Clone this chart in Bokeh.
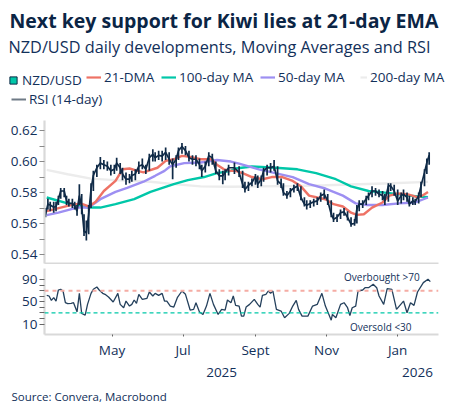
from bokeh.plotting import figure
from bokeh.layouts import column, row
from bokeh.models import Range1d, FixedTicker, Span, Label, Legend, LegendItem, LinearAxis
from bokeh.embed import file_html
from bokeh.resources import INLINE

TITLE = "Next key support for Kiwi lies at 21-day EMA"
SUBTITLE = "NZD/USD daily developments, Moving Averages and RSI"
SOURCE = "Source: Convera, Macrobond"

price_days = [0,2,4,7,9,11,13,16,18,20,23,25,27,29,31,33,35,37,39,41,44,47,50,53,56,59,61,64,66,69,72,74,77,80,83,86,89,92,94,97,100,103,106,109,112,114,117,120,123,126,129,132,134,137,140,143,146,149,152,154,157,
162,166,169,171,174,177,180,182,185,187,190,193,196,199,202,204,207,210,213,216,219,222,224,227,230,233,236,239,242,245,247,250,253,256,259,262,265,267,269,272,275,277,280,283,286,289,291,294,296,299,302,305,307,310,312,315,317,320,322,325,327,329]
price_close = [.566,.5725,.572,.5705,.571,.5757,.581,.581,.5746,.573,.573,.5714,.568,.578,.571,.555,.554,.566,.582,.591,.596,.599,.598,.597,.594,.595,.599,.596,.592,.5886,.5886,.591,.592,.597,.598,.595,.6025,.6047,.6025,.604,.6035,.606,.6015,.598,.6015,.607,.6097,.607,.6025,.6015,.6015,.598,.594,.597,.6037,.6025,.594,.5908,.5908,.593,.596,
.596,.593,.5854,.582,.5847,.5865,.5903,.5854,.5886,.594,.596,.596,.597,.5875,.5854,.58,.578,.581,.583,.584,.5768,.5725,.5718,.573,.574,.5746,.578,.579,.5746,.566,.5628,.564,.567,.5675,.564,.5596,.56,.5693,.5725,.5725,.576,.578,.581,.581,.579,.578,.5746,.5843,.5843,.581,.5746,.578,.579,.5768,.5725,.5746,.574,.578,.5843,.593,.5993,.604]
price_high = [.57,.576,.574,.574,.574,.578,.583,.583,.578,.576,.576,.574,.572,.5854,.579,.566,.562,.572,.586,.594,.598,.603,.601,.6,.598,.598,.6025,.599,.596,.593,.592,.594,.595,.6,.602,.598,.605,.608,.606,.607,.607,.609,.606,.602,.604,.609,.612,.61,.607,.604,.604,.602,.598,.6,.606,.605,.6,.595,.594,.595,.598,
.5994,.597,.594,.587,.587,.589,.592,.591,.591,.596,.598,.599,.601,.597,.589,.586,.581,.583,.585,.586,.584,.577,.575,.575,.576,.577,.58,.582,.579,.575,.567,.566,.569,.57,.568,.564,.563,.572,.575,.575,.578,.58,.584,.583,.582,.581,.579,.586,.586,.585,.582,.58,.582,.58,.578,.577,.576,.58,.587,.595,.602,.606]
price_low = [.564,.569,.568,.567,.568,.572,.576,.577,.572,.571,.57,.569,.565,.572,.566,.552,.549,.553,.57,.581,.59,.595,.595,.594,.591,.592,.594,.592,.588,.585,.586,.587,.588,.592,.595,.592,.594,.6,.6,.601,.6,.601,.598,.5886,.596,.601,.605,.604,.6,.598,.597,.595,.59,.593,.597,.598,.592,.588,.5854,.588,.591,
.592,.59,.583,.58,.581,.584,.585,.583,.584,.587,.591,.593,.594,.585,.583,.578,.576,.577,.58,.581,.575,.571,.569,.57,.571,.572,.574,.576,.572,.564,.561,.561,.563,.565,.562,.558,.5585,.56,.568,.57,.572,.575,.577,.578,.577,.575,.572,.574,.581,.578,.572,.573,.575,.574,.571,.572,.572,.573,.577,.584,.592,.598]

dma21_days = [1,19,30,37,43,50,60,66,72,79,84,96,103,110,117,124,133,142,147,153,159,163,169,177,186,194,203,212,219,226,233,240,247,255,262,267,273,280,289,295,302,310,319,323,328]
dma21 = [.568,.5714,.573,.571,.574,.581,.5875,.595,.5955,.594,.593,.596,.6004,.6015,.6037,.603,.6015,.6015,.598,.595,.594,.594,.5925,.59,.5886,.59,.59,.5875,.584,.578,.5768,.5757,.5725,.571,.567,.5656,.566,.5703,.5736,.578,.5794,.579,.577,.578,.5804]
ma100_days = [1,19,37,47,60,76,90,110,122,136,147,159,163,177,197,216,232,249,262,277,295,312,328]
ma100 = [.5768,.573,.5703,.5703,.5725,.5757,.5804,.5854,.588,.59,.5925,.594,.5955,.5968,.596,.595,.5925,.5886,.584,.581,.5796,.578,.577]
ma50_days = [1,11,27,37,47,60,70,84,94,102,107,119,133,147,159,166,183,197,212,226,240,255,266,275,289,303,317,328]
ma50 = [.5654,.567,.5703,.5703,.5757,.5804,.583,.587,.5908,.594,.597,.599,.5994,.601,.6,.5987,.595,.5925,.59,.5854,.5826,.578,.573,.572,.572,.573,.5736,.5768]
ma200_days = [1,19,39,59,90,110,133,159,183,212,240,269,297,328]
ma200 = [.5946,.5918,.589,.588,.587,.5854,.584,.5837,.584,.5842,.5847,.5854,.586,.5869]

rsi_days = [1,3,5,7,9,11,13,15,17,19,22,24,27,29,31,34,36,39,41,44,46,49,51,54,58,62,64,67,69,72,74,76,78,80,83,87,89,92,94,97,100,102,104,107,110,113,117,120,124,127,129,132,135,138,141,144,148,151,154,156,159,
161,163,166,168,170,172,175,179,182,184,186,189,191,193,195,198,202,205,209,212,215,217,220,225,229,233,237,240,243,245,246,249,253,256,259,261,263,266,268,272,274,277,281,284,286,290,293,297,301,307,310,313,316,319,324,328,330]
rsi = [61.7,60.5,52.7,57.5,51.4,71.3,72.5,69.5,48.4,46.6,47.2,48.4,32,65.3,29,26,45.4,65.3,72.5,76.7,71.3,65.3,63.5,58.7,49.6,65.3,45.4,39.4,51.4,42.4,45.4,53.3,47.2,63.5,54.5,56.3,67.7,60.5,65.3,61.7,65.3,51.4,51.4,42.4,40.6,57.5,69.5,63.5,35.2,36.4,48.4,31.6,27.3,42.4,65.3,45.4,27.3,36.4,35.2,53.3,48.4,
60.5,43.6,42.4,24.3,24.3,40.6,45.4,54.5,45.4,40.6,61.7,63.5,69.5,65.3,69.5,36.4,33.4,21.3,29.2,42.4,52.7,36.4,24.3,24.3,42.4,45.4,65.3,42.4,27.3,17,27.3,21.3,45.4,48.4,39.4,25.5,39.4,42.4,69.5,71.3,75.5,75.5,81.6,75.5,60.5,45.4,73.7,72.5,36.4,51.4,30.4,48.4,43.6,67.7,84.6,90.6,86.4]

price_ticks = [.54,.55,.56,.57,.58,.59,.60,.61,.62]
price_labels = {.54:"0.54",.55:"",.56:"0.56",.57:"",.58:"0.58",.59:"",.60:"0.60",.61:"",.62:"0.62"}
rsi_ticks = [10,20,30,40,50,60,70,80,90]
rsi_labels = {10:"10",20:"",30:"",40:"",50:"50",60:"",70:"",80:"",90:"90"}
month_ticks = [57,118,180,241,302]
month_labels = {57:"May",118:"Jul",180:"Sept",241:"Nov",302:"Jan"}
year_ticks = [151,319]
year_labels = {151:"2025",319:"2026"}

NAVY = "#0f2a47"
TEXT = "#12305a"
RED = "#ee7265"
TEAL = "#00c7a8"
PURPLE = "#9d8ff2"
LIGHT = "#ececec"
GREY = "#6f7a86"
AXIS = "#d9d9d9"
FONT = "Open Sans"

# ---- header: title, subtitle and legend
h = figure(width=455, height=115, frame_width=455, frame_height=115, min_border=0, output_backend="svg",
           toolbar_location=None, x_axis_location=None, y_axis_location=None, x_range=(0, 1), y_range=(0, 1),
           outline_line_color=None)
h.grid.visible = False
h.add_layout(Label(x=9, y=95, x_units="screen", y_units="screen", text=TITLE, text_font=FONT, text_font_style="bold",
                   text_font_size="19.5px", text_color="#0b2545", text_baseline="middle", text_align="left"))
h.add_layout(Label(x=8, y=69, x_units="screen", y_units="screen", text=SUBTITLE, text_font=FONT,
                   text_font_size="16.3px", text_color=TEXT, text_baseline="middle", text_align="left"))
# legend keys are drawn from renderers whose points lie outside the header's range
off_x, off_y = [-2, -1], [-2, -1]
k_px = h.scatter(off_x, off_y, marker="square", fill_color=TEAL, line_color=NAVY, line_width=1)
k_21 = h.line(off_x, off_y, line_color=RED, line_width=2.2)
k_100 = h.line(off_x, off_y, line_color=TEAL, line_width=2.2)
k_50 = h.line(off_x, off_y, line_color=PURPLE, line_width=2.2)
k_200 = h.line(off_x, off_y, line_color=LIGHT, line_width=2.2)
k_rsi = h.line(off_x, off_y, line_color=GREY, line_width=2)
legend_spec = [("NZD/USD", k_px, 18, 4, 26, 18, -1), ("21-DMA", k_21, 15, 86, 29, 16, 3), ("100-day MA", k_100, 15, 161, 29, 16, 3),
               ("50-day MA", k_50, 15, 260, 29, 16, 3), ("200-day MA", k_200, 7, 360, 29, 16, 3), ("RSI (14-day)", k_rsi, 15, 11, 7, 16, 3)]
for name, rend, gw, lx, ly, gh, so in legend_spec:
    lg = Legend(items=[LegendItem(label=name, renderers=[rend])], location=(lx, ly), orientation="horizontal",
                glyph_width=gw, glyph_height=gh, label_height=16, label_standoff=so, padding=0, margin=0, spacing=0,
                background_fill_alpha=0, border_line_color=None, label_text_font=FONT, label_text_font_size="13.5px",
                label_text_color=TEXT, label_text_baseline="middle")
    h.add_layout(lg, "center")

x_range = Range1d(-0.9, 337)

# ---- price panel
p = figure(width=455, height=149, frame_width=394, frame_height=143, min_border_left=44, min_border_right=17,
           min_border_top=5, min_border_bottom=1, output_backend="svg", toolbar_location=None,
           x_range=x_range, y_range=Range1d(0.5342, 0.6265), outline_line_color=None)
p.grid.visible = False
p.line(ma200_days, ma200, line_color=LIGHT, line_width=2.4)
p.line(ma100_days, ma100, line_color=TEAL, line_width=2.4)
p.line(ma50_days, ma50, line_color=PURPLE, line_width=2.4)
p.line(dma21_days, dma21, line_color=RED, line_width=2.4)
p.segment(price_days, price_low, price_days, price_high, line_color=NAVY, line_width=1.7)
p.line(price_days, price_close, line_color=NAVY, line_width=1.7)

p.yaxis.ticker = FixedTicker(ticks=price_ticks)
p.yaxis.major_label_overrides = price_labels
p.yaxis.minor_tick_line_color = None
p.yaxis.major_tick_in = 0
p.yaxis.major_tick_out = 5
p.yaxis.major_tick_line_color = "#8a8a8a"
p.yaxis.axis_line_color = AXIS
p.yaxis.axis_line_width = 2.2
p.yaxis.major_label_text_font = FONT
p.yaxis.major_label_text_font_size = "13.5px"
p.yaxis.major_label_text_color = TEXT
p.yaxis.major_label_standoff = 2

p.xaxis.ticker = FixedTicker(ticks=[])
p.xaxis.minor_tick_line_color = None
p.xaxis.major_tick_line_color = None
p.xaxis.major_label_text_font_size = "0px"
p.xaxis.major_label_standoff = 0
p.xaxis.axis_line_color = AXIS
p.xaxis.axis_line_width = 2.2

# ---- RSI panel
q = figure(width=455, height=116, frame_width=394, frame_height=66, min_border_left=44, min_border_right=17,
           min_border_top=4, min_border_bottom=1, output_backend="svg", toolbar_location=None,
           x_range=x_range, y_range=Range1d(-8.8, 110), outline_line_color=None)
q.grid.visible = False
q.add_layout(Span(location=70, dimension="width", line_color="#f5aca4", line_width=2, line_dash=[4, 4]))
q.add_layout(Span(location=30, dimension="width", line_color=TEAL, line_width=1.3, line_dash=[4, 3]))
q.line(rsi_days, rsi, line_color="#24405c", line_width=1.3)

q.yaxis.ticker = FixedTicker(ticks=rsi_ticks)
q.yaxis.major_label_overrides = rsi_labels
q.yaxis.minor_tick_line_color = None
q.yaxis.major_tick_in = 0
q.yaxis.major_tick_out = 5
q.yaxis.major_tick_line_color = "#666666"
q.yaxis.axis_line_color = AXIS
q.yaxis.axis_line_width = 2.2
q.yaxis.major_label_text_font = FONT
q.yaxis.major_label_text_font_size = "13.5px"
q.yaxis.major_label_text_color = TEXT
q.yaxis.major_label_standoff = 2

q.xaxis.ticker = FixedTicker(ticks=month_ticks)
q.xaxis.major_label_overrides = month_labels
q.xaxis.minor_tick_line_color = None
q.xaxis.major_tick_in = 0
q.xaxis.major_tick_out = 2
q.xaxis.major_tick_line_color = "#666666"
q.xaxis.axis_line_color = AXIS
q.xaxis.axis_line_width = 2.2
q.xaxis.major_label_text_font = FONT
q.xaxis.major_label_text_font_size = "13.5px"
q.xaxis.major_label_text_color = TEXT
q.xaxis.major_label_standoff = 4

yr = LinearAxis(ticker=FixedTicker(ticks=year_ticks), major_label_overrides=year_labels,
                axis_line_color=None, major_tick_line_color=None, minor_tick_line_color=None,
                major_label_text_font=FONT, major_label_text_font_size="13.5px", major_label_text_color=TEXT,
                major_label_standoff=0)
q.add_layout(yr, "below")

q.add_layout(Label(x=256, y=95.4, text="Overbought >70", text_font=FONT, text_font_size="10px", text_color=TEXT,
                   text_baseline="middle", text_align="left"))
q.add_layout(Label(x=261, y=5, text="Oversold <30", text_font=FONT, text_font_size="10px", text_color=TEXT,
                   text_baseline="middle", text_align="left"))

# ---- footer
f = figure(width=455, height=30, frame_width=455, frame_height=30, min_border=0, output_backend="svg",
           toolbar_location=None, x_axis_location=None, y_axis_location=None, x_range=(0, 1), y_range=(0, 1),
           outline_line_color=None)
f.grid.visible = False
f.add_layout(Label(x=11, y=13, x_units="screen", y_units="screen", text=SOURCE, text_font=FONT, text_font_size="11.5px",
                   text_color=TEXT, text_baseline="middle", text_align="left"))

layout = column(row(h), p, q, row(f), spacing=0)
open("out.html", "w").write(file_html(layout, INLINE))
